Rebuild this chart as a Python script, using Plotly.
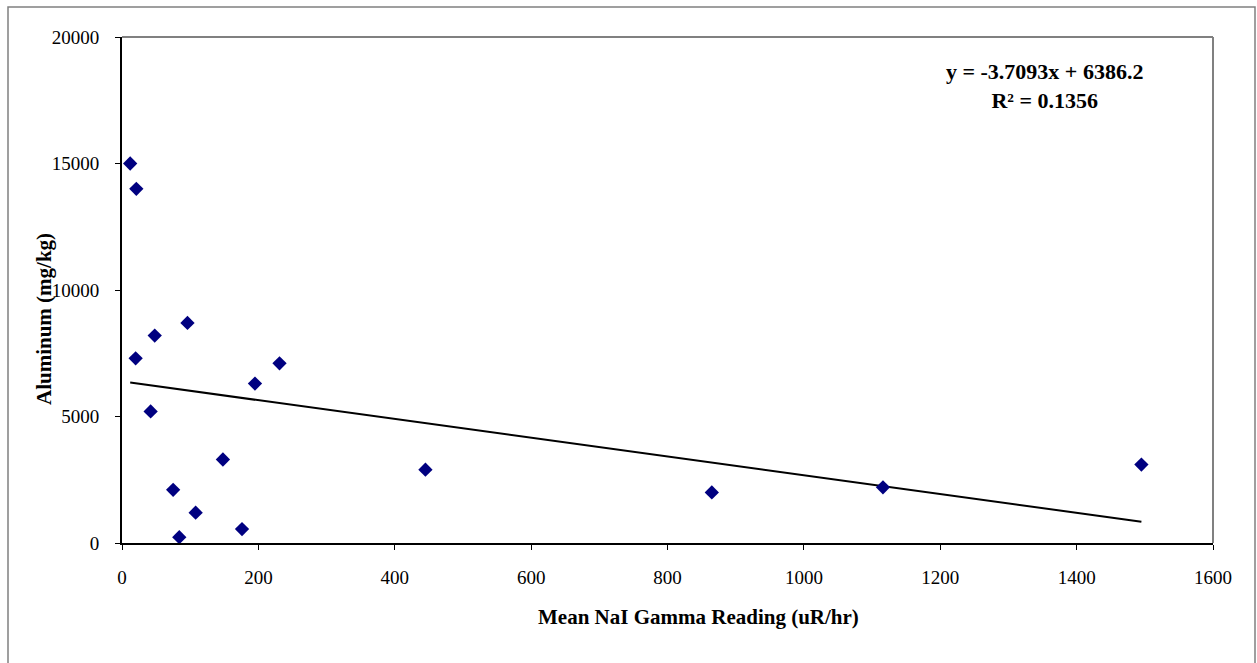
import plotly.graph_objects as go

# Data
gamma = [12, 21, 96, 48, 20, 231, 195, 42, 148, 75, 108, 176, 84, 445, 865, 1116, 1495]
aluminum = [15000, 14000, 8700, 8200, 7300, 7100, 6300, 5200, 3300, 2100, 1200, 550, 230, 2900, 2000, 2200, 3100]

slope = -3.7093
intercept = 6386.2
r2 = 0.1356

x_ticks = [0, 200, 400, 600, 800, 1000, 1200, 1400, 1600]
y_ticks = [0, 5000, 10000, 15000, 20000]

x_title = "Mean NaI Gamma Reading (uR/hr)"
y_title = "Aluminum (mg/kg)"

FONT = "Liberation Serif, Times New Roman, serif"

trend_x = [min(gamma), max(gamma)]
trend_y = [slope * v + intercept for v in trend_x]

fig = go.Figure()
fig.add_trace(go.Scatter(
    x=trend_x, y=trend_y, mode="lines",
    line=dict(color="black", width=2), showlegend=False, hoverinfo="skip"))
fig.add_trace(go.Scatter(
    x=gamma, y=aluminum, mode="markers",
    marker=dict(symbol="diamond", size=11, color="#000080",
                line=dict(width=0)),
    showlegend=False))

fig.update_layout(
    width=1257, height=663,
    margin=dict(l=122, r=44, t=37, b=120),
    paper_bgcolor="white", plot_bgcolor="white",
    font=dict(family=FONT, size=19, color="black"),
    xaxis=dict(
        range=[0, 1600], tickvals=x_ticks, ticktext=[str(v) for v in x_ticks],
        showgrid=False, zeroline=False,
        showline=True, linecolor="black", linewidth=2,
        ticks="outside", ticklen=5, tickwidth=1, tickcolor="black",
        ticklabelstandoff=11,
    ),
    yaxis=dict(
        range=[0, 20000], tickvals=y_ticks, ticktext=[str(v) for v in y_ticks],
        showgrid=False, zeroline=False,
        showline=True, linecolor="black", linewidth=2,
        ticks="outside", ticklen=5, tickwidth=1, tickcolor="black",
        ticklabelstandoff=12,
    ),
    shapes=[
        # top & right plot border (gray)
        dict(type="line", xref="paper", yref="paper", x0=0, x1=1, y0=1, y1=1,
             line=dict(color="#808080", width=2)),
        dict(type="line", xref="paper", yref="paper", x0=1, x1=1, y0=0, y1=1,
             line=dict(color="#808080", width=2)),
        # outer chart frame
        dict(type="rect", xref="paper", yref="paper",
             x0=(8 - 122) / 1091, x1=(1255 - 122) / 1091,
             y0=(543 - 680) / 506, y1=(543 - 7) / 506,
             line=dict(color="#808080", width=1.5), fillcolor="rgba(0,0,0,0)",
             layer="below"),
    ],
    annotations=[
        dict(xref="paper", yref="paper", x=(1044 - 122) / 1091, y=(543 - 86) / 506,
             text=f"<b>y = {slope}x + {intercept}</b><br><b>R² = {r2}</b>",
             showarrow=False, align="center", xanchor="center", yanchor="middle",
             font=dict(family=FONT, size=22, color="black")),
        dict(xref="paper", yref="paper", x=(698 - 122) / 1091, y=(543 - 617) / 506,
             text=f"<b>{x_title}</b>", showarrow=False,
             xanchor="center", yanchor="middle",
             font=dict(family=FONT, size=21, color="black")),
        dict(xref="paper", yref="paper", x=(44 - 122) / 1091, y=(543 - 319) / 506,
             text=f"<b>{y_title}</b>", showarrow=False, textangle=-90,
             xanchor="center", yanchor="middle",
             font=dict(family=FONT, size=21, color="black")),
    ],
)

fig.write_html("out.html")
